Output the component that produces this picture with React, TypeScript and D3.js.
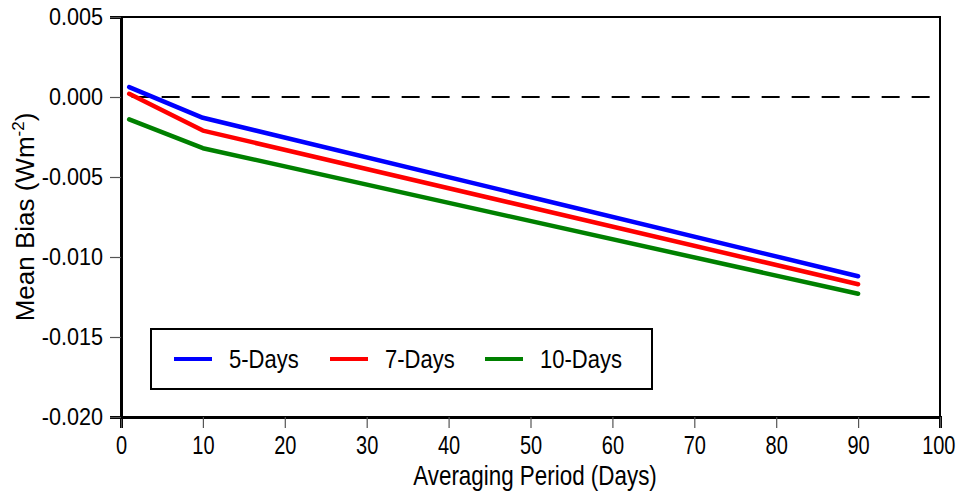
import { useRef, useEffect } from 'react';
import * as d3 from 'd3';

const WIDTH = 959;
const HEIGHT = 493;
const MARGIN = { top: 17, right: 19, bottom: 76, left: 121 };

const periods = [1, 10, 90];
const bias5 = [0.00062, -0.0013, -0.0112];
const bias7 = [0.0002, -0.0021, -0.0117];
const bias10 = [-0.0014, -0.0032, -0.0123];

const seriesNames = ['5-Days', '7-Days', '10-Days'];
const seriesColors = ['#0000ff', '#ff0000', '#008000'];

const xTicks = [0, 10, 20, 30, 40, 50, 60, 70, 80, 90, 100];
const yTicks = [0.005, 0, -0.005, -0.01, -0.015, -0.02];

const FONT = '"Liberation Sans", Arial, sans-serif';

// the reference text is drawn tall and narrow: squeeze it horizontally
function squeeze(sel: any, factor: number) {
  sel.each(function (this: SVGTextElement) {
    const w = this.getComputedTextLength();
    this.setAttribute('textLength', String(w * factor));
    this.setAttribute('lengthAdjust', 'spacingAndGlyphs');
  });
}

export default function App() {
  const svgRef = useRef<SVGSVGElement>(null);

  useEffect(() => {
    if (!svgRef.current) return;
    const svg = d3.select(svgRef.current);
    svg.selectAll('*').remove();

    const innerW = WIDTH - MARGIN.left - MARGIN.right;
    const innerH = HEIGHT - MARGIN.top - MARGIN.bottom;

    const x = d3.scaleLinear().domain([0, 100]).range([0, innerW]);
    const y = d3.scaleLinear().domain([-0.02, 0.005]).range([innerH, 0]);

    const g = svg.append('g').attr('transform', `translate(${MARGIN.left},${MARGIN.top})`);

    // zero reference
    g.append('line')
      .attr('x1', x(1.3)).attr('x2', innerW)
      .attr('y1', y(0)).attr('y2', y(0))
      .attr('stroke', '#000').attr('stroke-width', 2)
      .attr('stroke-dasharray', '18,12');

    // series
    const all = [bias5, bias7, bias10];
    const line = d3.line<number>()
      .x((_, i) => x(periods[i]))
      .y((d) => y(d));

    all.forEach((vals, k) => {
      g.append('path')
        .datum(vals)
        .attr('fill', 'none')
        .attr('stroke', seriesColors[k])
        .attr('stroke-width', 4.5)
        .attr('stroke-linecap', 'round')
        .attr('stroke-linejoin', 'round')
        .attr('d', line);
    });

    // frame
    g.append('rect')
      .attr('x', 0).attr('y', 0).attr('width', innerW).attr('height', innerH)
      .attr('fill', 'none').attr('stroke', '#000').attr('stroke-width', 2);

    // axes
    const xAxis = g.append('g')
      .attr('transform', `translate(0,${innerH})`)
      .call(d3.axisBottom(x).tickValues(xTicks).tickSize(11).tickPadding(8).tickFormat(d3.format('d')));
    xAxis.select('.domain').attr('stroke', '#000').attr('stroke-width', 3);
    xAxis.selectAll('line').attr('stroke', '#555').attr('stroke-width', 1.2);
    const xLabels = xAxis.selectAll('text')
      .attr('fill', '#000').attr('font-size', 25).attr('font-family', FONT);
    // last label sits against the page edge: anchor it at its right side
    xLabels.filter((d: any) => d === 100).attr('text-anchor', 'end').attr('x', 15);
    squeeze(xLabels, 0.8);

    const yAxis = g.append('g')
      .call(d3.axisLeft(y).tickValues(yTicks).tickSize(11).tickPadding(7).tickFormat(d3.format('.3f')));
    yAxis.select('.domain').attr('stroke', '#000').attr('stroke-width', 3);
    yAxis.selectAll('line').attr('stroke', '#555').attr('stroke-width', 1.2);
    const yLabels = yAxis.selectAll('text')
      .attr('fill', '#000').attr('font-size', 24).attr('font-family', FONT)
      .text((d: any) => d3.format('.3f')(d).replace('−', '-'));
    squeeze(yLabels, 0.9);

    // axis titles
    const xt = svg.append('text')
      .attr('x', 535).attr('y', 485)
      .attr('text-anchor', 'middle')
      .attr('font-size', 28).attr('font-family', FONT)
      .text('Averaging Period (Days)');
    squeeze(xt, 0.8);

    const yt = svg.append('text')
      .attr('transform', `translate(34,${MARGIN.top + innerH / 2}) rotate(-90)`)
      .attr('text-anchor', 'middle')
      .attr('font-size', 26).attr('font-family', FONT);
    yt.append('tspan').text('Mean Bias (Wm');
    yt.append('tspan').attr('dy', -10).attr('font-size', 17).text('-2');
    yt.append('tspan').attr('dy', 10).text(')');

    // legend
    const leg = svg.append('g').attr('transform', 'translate(151,329)');
    leg.append('rect')
      .attr('width', 501).attr('height', 60)
      .attr('fill', '#fff').attr('stroke', '#000').attr('stroke-width', 2);
    const offsets = [23, 179, 334];
    seriesNames.forEach((name, k) => {
      const lg = leg.append('g').attr('transform', `translate(${offsets[k]},30)`);
      lg.append('line')
        .attr('x1', 0).attr('x2', 38).attr('y1', 0).attr('y2', 0)
        .attr('stroke', seriesColors[k]).attr('stroke-width', 4);
      const t = lg.append('text')
        .attr('x', 55).attr('y', 0).attr('dy', '0.36em')
        .attr('font-size', 25).attr('font-family', FONT)
        .text(name);
      squeeze(t, 0.88);
    });
  }, []);

  return (
    <svg ref={svgRef} width={WIDTH} height={HEIGHT} style={{ display: 'block', position: 'absolute', left: 0, top: 0 }} />
  );
}
